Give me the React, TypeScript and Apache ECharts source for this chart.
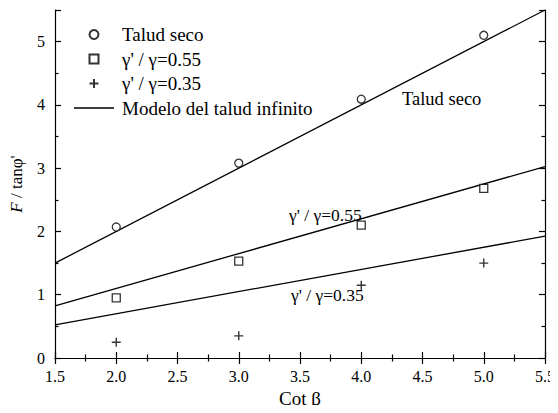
import React, { useEffect, useRef } from "react";
import * as echarts from "echarts";

const cotBeta = [2.0, 3.0, 4.0, 5.0];
const taludSeco = [2.07, 3.08, 4.09, 5.1];
const ratio055 = [0.95, 1.53, 2.1, 2.68];
const ratio035 = [0.25, 0.35, 1.15, 1.5];
const modelX = [1.5, 5.5];
const modelSlopes = [1.0, 0.55, 0.35];

const FONT = "'Liberation Serif', 'Times New Roman', serif";
const PLUS = "path://M5,0 L5,10 M0,5 L10,5";
const SQUARE = "path://M0,0 L10,0 L10,10 L0,10 Z";
const LINEICON = "path://M0,0 L40,0 L40,1.3 L0,1.3 Z";

export default function App() {
  const ref = useRef<HTMLDivElement>(null);
  useEffect(() => {
    if (!ref.current) return;
    const chart = echarts.init(ref.current, null, { renderer: "svg" });
    const pts = (ys: number[]) => cotBeta.map((x, i) => [x, ys[i]]);
    const modelLine = (k: number) => modelX.map((x) => [x, k * x]);
    const axisCommon = {
      axisLine: { show: true, lineStyle: { color: "#000", width: 1.2 } },
      axisTick: { show: true, inside: true, length: 6, lineStyle: { color: "#000", width: 1.2 } },
      minorTick: { show: true, splitNumber: 2, length: 3.5, lineStyle: { color: "#000", width: 1.2 } },
      splitLine: { show: false },
    };
    const lineSeries = (k: number) => ({
      type: "line",
      name: "Modelo del talud infinito",
      data: modelLine(k),
      symbol: "none",
      showSymbol: false,
      lineStyle: { color: "#000", width: 1.3 },
      itemStyle: { color: "#000" },
      z: 1,
    });
    chart.setOption({
      animation: false,
      backgroundColor: "#fff",
      grid: { left: 51, right: 10, top: 10, bottom: 51 },
      legend: {
        orient: "vertical",
        left: 69,
        top: 20,
        itemWidth: 40,
        itemHeight: 9,
        itemGap: 5.5,
        textStyle: { fontFamily: FONT, fontSize: 19, color: "#000", padding: [0, 0, 0, 3] },
        data: [
          { name: "Talud seco" },
          { name: "γ' / γ=0.55", icon: SQUARE },
          { name: "γ' / γ=0.35", icon: PLUS },
          { name: "Modelo del talud infinito", icon: LINEICON, itemStyle: { color: "#000", borderWidth: 0 } },
        ],
      },
      xAxis: [
        {
          type: "value",
          min: 1.5,
          max: 5.5,
          interval: 0.5,
          position: "bottom",
          ...axisCommon,
          axisLabel: {
            fontFamily: FONT,
            fontSize: 16,
            color: "#000",
            margin: 10,
            formatter: (v: number) => v.toFixed(1),
          },
          name: "Cot β",
          nameLocation: "middle",
          nameGap: 31,
          nameTextStyle: { fontFamily: FONT, fontSize: 19, color: "#000" },
        },
        {
          type: "value",
          min: 1.5,
          max: 5.5,
          interval: 0.5,
          position: "top",
          ...axisCommon,
          axisLabel: { show: false },
        },
      ],
      yAxis: [
        {
          type: "value",
          min: 0,
          max: 5.5,
          interval: 1,
          position: "left",
          ...axisCommon,
          axisLabel: {
            fontFamily: FONT,
            fontSize: 16,
            color: "#000",
            margin: 10,
            showMaxLabel: false,
            formatter: (v: number) => (v > 5 ? "" : String(v)),
          },
          name: "{i|F} / tanφ'",
          nameLocation: "middle",
          nameRotate: 90,
          nameGap: 30,
          nameTextStyle: {
            fontFamily: FONT,
            fontSize: 17,
            color: "#000",
            rich: { i: { fontFamily: FONT, fontSize: 17, fontStyle: "italic", color: "#000" } },
          },
        },
        {
          type: "value",
          min: 0,
          max: 5.5,
          interval: 1,
          position: "right",
          ...axisCommon,
          axisLabel: { show: false },
        },
      ],
      graphic: [
        {
          type: "text",
          left: 402,
          top: 89,
          style: { text: "Talud seco", fontFamily: FONT, fontSize: 18.5, fill: "#000" },
        },
        {
          type: "text",
          left: 289,
          top: 206,
          style: { text: "γ' / γ=0.55", fontFamily: FONT, fontSize: 17.5, fill: "#000" },
        },
        {
          type: "text",
          left: 291,
          top: 286,
          style: { text: "γ' / γ=0.35", fontFamily: FONT, fontSize: 17.5, fill: "#000" },
        },
      ],
      series: [
        {
          type: "scatter",
          name: "Talud seco",
          data: pts(taludSeco),
          symbol: "circle",
          symbolSize: 8,
          itemStyle: { color: "#fff", borderColor: "#000", borderWidth: 1.3 },
          z: 3,
        },
        {
          type: "scatter",
          name: "γ' / γ=0.55",
          data: pts(ratio055),
          symbol: "rect",
          symbolSize: 8,
          itemStyle: { color: "#fff", borderColor: "#000", borderWidth: 1.3 },
          z: 3,
        },
        {
          type: "scatter",
          name: "γ' / γ=0.35",
          data: pts(ratio035),
          symbol: PLUS,
          symbolSize: 9,
          itemStyle: { color: "none", borderColor: "#000", borderWidth: 1.4 },
          z: 3,
        },
        ...modelSlopes.map(lineSeries),
      ],
    });
    return () => chart.dispose();
  }, []);
  return <div ref={ref} style={{ width: 558, height: 413, margin: -8 }} />;
}
